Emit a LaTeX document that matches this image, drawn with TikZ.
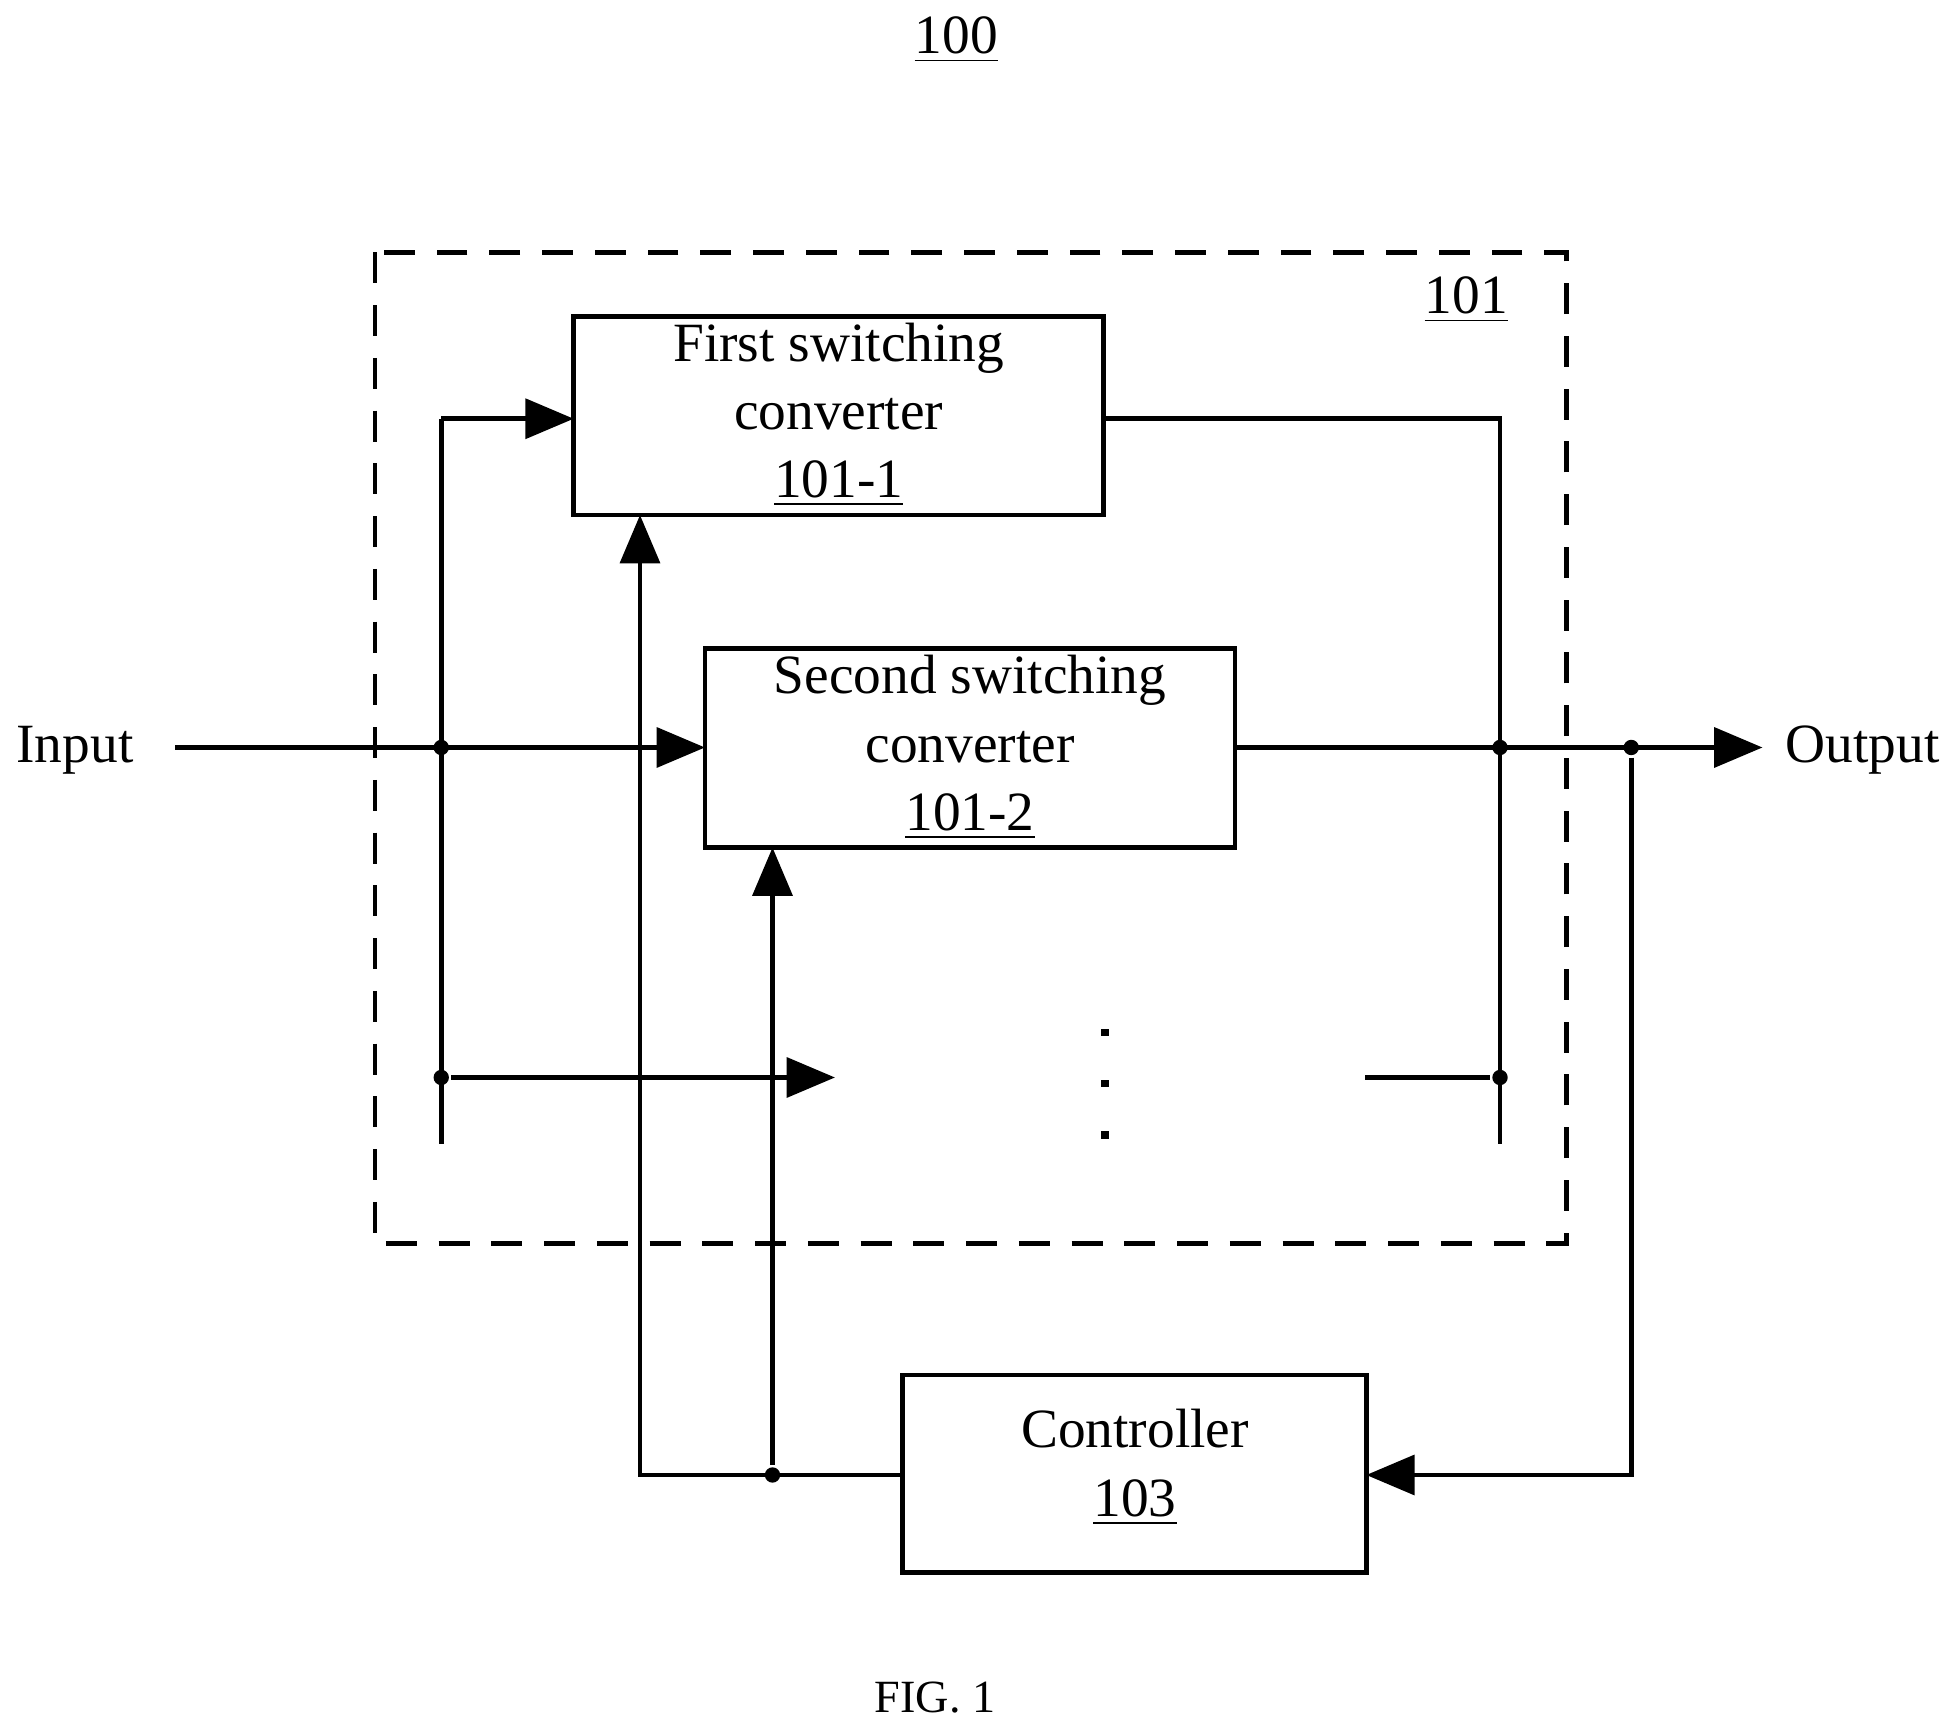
\documentclass[tikz,border=0pt]{standalone}
\usepackage{fontspec}
\setmainfont{Liberation Serif}
\usetikzlibrary{arrows.meta}
\begin{document}
\begin{tikzpicture}[x=0.01cm,y=-0.01cm,line width=1.1pt,
  every node/.style={font=\fontsize{12.6}{15.5}\selectfont},
  block/.style={draw,line width=1.1pt,inner sep=0pt},
  txt/.style={align=center},
  arr/.style={-{Triangle[length=11pt,width=9pt]}},
  dot/.style={circle,fill,inner sep=0pt,minimum size=3.5pt}]
\useasboundingbox (0,0) rectangle (1560,1380);

\node (title) at (765,32) {\underline{100}};
\draw[dashed,line width=1.1pt,dash pattern=on 7pt off 5pt] (300,202) rectangle (1253,995);
\node (lbl) at (1173,240) {\underline{101}};

\draw[block] (459,253) rectangle (883,412);
\node[txt] (conv1) at (671,332) {First switching\\converter\\\underline{101-1}};
\draw[block] (564,519) rectangle (988,678);
\node[txt] (conv2) at (776,598) {Second switching\\converter\\\underline{101-2}};
\draw[block] (722,1100) rectangle (1093,1258);
\node[txt] (ctrl) at (908,1174) {Controller\\\underline{103}};

\node (in) at (60,600) {Input};
\node (out) at (1490,600) {Output};
\node[font=\fontsize{10.5}{12}\selectfont] (fig) at (748,1358) {FIG. 1};

\coordinate (inL) at (140,598);
\node[dot] (jL) at (353,598) {};
\node[dot] (jL3) at (353,862) {};
\node[dot] (jR) at (1200,598) {};
\node[dot] (jR3) at (1200,862) {};
\node[dot] (jO) at (1305,598) {};
\node[dot] (jC) at (618,1180) {};

% input side
\draw[arr] (inL) -- (564,598);
\draw (353,915) -- (353,335);
\draw[arr] (353,335) -- (459,335);
\draw[arr] (jL3) -- (668,862);

% output side
\draw (883,335) -- (1200,335) -- (1200,915);
\draw[arr] (988,598) -- (1410,598);
\draw (1092,862) -- (jR3);

% control loop
\draw[arr] (jO) -- (1305,1180) -- (1093,1180);
\draw[arr] (722,1180) -- (512,1180) -- (512,412);
\draw[arr] (jC) -- (618,678);

% ellipsis
\foreach \y in {826,867,908}
  \fill (881,\y-3) rectangle (887,\y+3);
\end{tikzpicture}
\end{document}
